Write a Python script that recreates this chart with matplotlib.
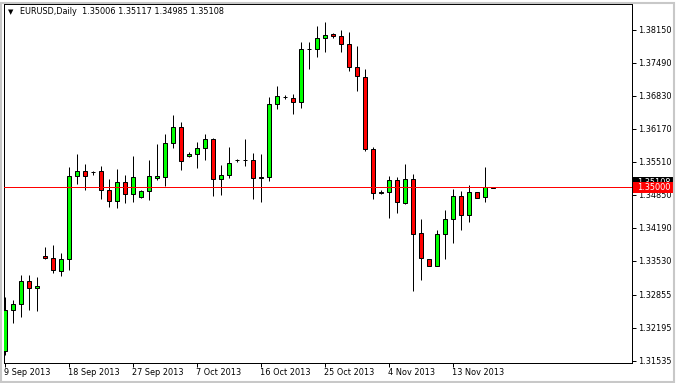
import matplotlib
matplotlib.use('Agg')
import matplotlib.pyplot as plt
from matplotlib.patches import Rectangle
import matplotlib.transforms as mtransforms

# daily EURUSD bars (Sunday bars included)
opens = [1.31723, 1.32543, 1.32663, 1.33123, 1.32983, 1.33623, 1.33583, 1.33337, 1.33563, 1.35223,
         1.35323, 1.35317, 1.35323, 1.34943, 1.34723, 1.35103, 1.34863, 1.34803, 1.34923, 1.35197,
         1.35203, 1.35883, 1.36203, 1.35623, 1.35663, 1.35783, 1.35963, 1.35163, 1.35243, 1.35543,
         1.35543, 1.35543, 1.35203, 1.35203, 1.36663, 1.36810, 1.36783, 1.36703, 1.37763, 1.37763,
         1.37983, 1.38070, 1.38030, 1.37863, 1.37403, 1.37203, 1.35763, 1.34910, 1.34903, 1.35143,
         1.34697, 1.35163, 1.34083, 1.33563, 1.33437, 1.34063, 1.34363, 1.34823, 1.34443, 1.34903,
         1.34803, 1.35003]
highs = [1.32803, 1.32750, 1.33250, 1.33250, 1.33210, 1.33810, 1.33850, 1.33683, 1.35410, 1.35670,
         1.35470, 1.35323, 1.35430, 1.35170, 1.35370, 1.35250, 1.35630, 1.34943, 1.35550, 1.35877,
         1.36063, 1.36450, 1.36303, 1.35703, 1.35903, 1.36070, 1.35983, 1.35450, 1.35810, 1.35570,
         1.35963, 1.35683, 1.35670, 1.36803, 1.37030, 1.36857, 1.36870, 1.37903, 1.37903, 1.38230,
         1.38310, 1.38090, 1.38150, 1.38103, 1.37830, 1.37363, 1.35803, 1.34957, 1.35237, 1.35203,
         1.35470, 1.35270, 1.34370, 1.33577, 1.34150, 1.34550, 1.34963, 1.34923, 1.35050, 1.34903,
         1.35417, 1.35010]
lows = [1.31650, 1.32297, 1.32417, 1.32550, 1.32537, 1.33563, 1.33290, 1.33237, 1.33357, 1.35070,
        1.34957, 1.35243, 1.34770, 1.34617, 1.34597, 1.34690, 1.34703, 1.34797, 1.34757, 1.35143,
        1.35030, 1.35783, 1.35350, 1.35603, 1.35397, 1.35550, 1.34837, 1.34857, 1.35183, 1.35503,
        1.35437, 1.34770, 1.34717, 1.35137, 1.36570, 1.36777, 1.36477, 1.36597, 1.37377, 1.37617,
        1.37717, 1.37983, 1.37717, 1.37337, 1.36937, 1.35737, 1.34777, 1.34877, 1.34397, 1.34483,
        1.34663, 1.32937, 1.33157, 1.33437, 1.33437, 1.33577, 1.33883, 1.34157, 1.34303, 1.34783,
        1.34717, 1.34980]
closes = [1.32550, 1.32670, 1.33123, 1.32983, 1.33023, 1.33583, 1.33343, 1.33563, 1.35223, 1.35323,
          1.35223, 1.35310, 1.34943, 1.34723, 1.35103, 1.34863, 1.35203, 1.34923, 1.35223, 1.35223,
          1.35883, 1.36203, 1.35523, 1.35663, 1.35783, 1.35963, 1.35163, 1.35243, 1.35483, 1.35543,
          1.35543, 1.35183, 1.35183, 1.36663, 1.36823, 1.36810, 1.36703, 1.37763, 1.37763, 1.37983,
          1.38050, 1.38023, 1.37863, 1.37403, 1.37223, 1.35763, 1.34883, 1.34883, 1.35143, 1.34703,
          1.35163, 1.34063, 1.33583, 1.33437, 1.34063, 1.34363, 1.34823, 1.34443, 1.34903, 1.34797,
          1.35003, 1.34997]

date_ticks = [0, 8, 16, 24, 32, 40, 48, 56]
date_labels = ['9 Sep 2013', '18 Sep 2013', '27 Sep 2013', '7 Oct 2013',
               '16 Oct 2013', '25 Oct 2013', '4 Nov 2013', '13 Nov 2013']
price_ticks = [1.38150, 1.37490, 1.36830, 1.36170, 1.35510, 1.34850,
               1.34190, 1.33530, 1.32855, 1.32195, 1.31535]
price_labels = ['1.38150', '1.37490', '1.36830', '1.36170', '1.35510', '1.34850',
                '1.34190', '1.33530', '1.32855', '1.32195', '1.31535']
header = 'EURUSD,Daily  1.35006 1.35117 1.34985 1.35108'
hline_price = 1.35000
bid_price = 1.35108

W, H = 676, 383
fig = plt.figure(figsize=(W / 100, H / 100), dpi=100)
fig.patch.set_facecolor('white')
# light window frame
fig.patches.append(Rectangle((1 / W, 1 / H), (W - 3) / W, (H - 4) / H, transform=fig.transFigure,
                             fill=False, edgecolor='#c8c8c8', lw=1.5))

left, right, top, bottom = 3.5, 631.7, 4, 362.7
ax = fig.add_axes([left / W, 1 - bottom / H, (right - left) / W, (bottom - top) / H])
ax.set_facecolor('white')

px = 0.72  # one pixel in points
for i in range(len(opens)):
    o, h, l, c = opens[i], highs[i], lows[i], closes[i]
    ax.plot([i, i], [l, h], color='black', lw=px, zorder=2, solid_capstyle='butt')
    col = '#00ff00' if c >= o else '#ff0000'
    ax.add_patch(Rectangle((i - 0.27, min(o, c)), 0.54, abs(c - o), facecolor=col,
                           edgecolor='black', lw=px, zorder=3))

ax.axhline(hline_price, color='#ff0000', lw=px, zorder=4)

ax.set_xlim(-0.15, 78.3)
ax.set_ylim(1.31496, 1.38670)

for s in ax.spines.values():
    s.set_color('black')
    s.set_linewidth(px)

ax.yaxis.tick_right()
ax.set_yticks(price_ticks)
ax.set_yticklabels(price_labels)
ax.set_xticks(date_ticks)
ax.set_xticklabels(date_labels, ha='left')
ax.tick_params(axis='both', direction='out', length=3, width=px, color='black',
               labelsize=5.9, labelcolor='black')
ax.tick_params(axis='y', pad=1.5)
ax.tick_params(axis='x', pad=1)
offset = mtransforms.ScaledTranslation(-1 / 100, 0, fig.dpi_scale_trans)
for lab in ax.get_xticklabels():
    lab.set_transform(lab.get_transform() + offset)

# price boxes on the right scale (bid box partly hidden under the line's box)
ytr = mtransforms.blended_transform_factory(fig.transFigure, ax.transData)
pp = (ax.get_ylim()[1] - ax.get_ylim()[0]) / (bottom - top)  # price per pixel
for price, txt, col, z in [(bid_price, '1.35108', 'black', 10), (hline_price, '1.35000', '#ff0000', 12)]:
    box = Rectangle((633 / W, price - 5.5 * pp), 42 / W, 11 * pp, transform=ytr,
                    facecolor=col, edgecolor='none', zorder=z, clip_on=False)
    ax.add_patch(box)
    ax.text(654 / W, price, txt, transform=ytr, fontsize=5.9, color='white',
            va='center', ha='center', zorder=z + 1, clip_on=False)

fig.text(8 / W, 1 - 12 / H, '\u25bc', fontsize=5, color='black', va='center', ha='left')
fig.text(20 / W, 1 - 12 / H, header, fontsize=5.9, color='black', va='center', ha='left')

fig.savefig('out.png', dpi=100)
